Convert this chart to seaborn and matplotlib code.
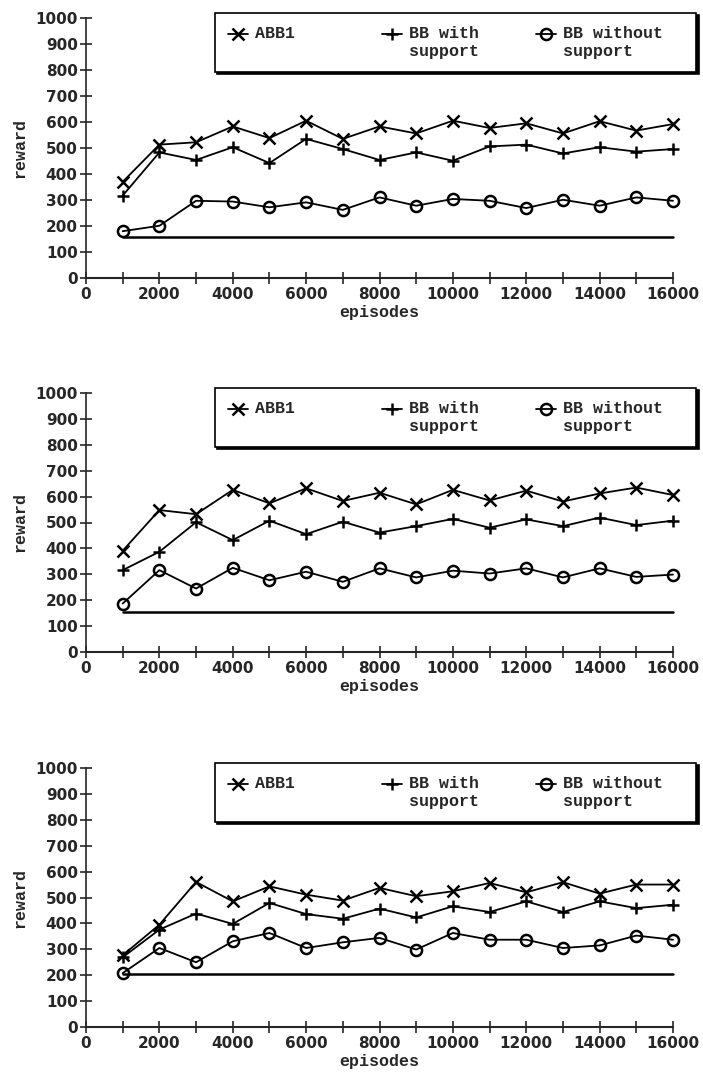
import matplotlib
matplotlib.use("Agg")
import matplotlib.pyplot as plt
import seaborn as sns
import numpy as np
import pandas as pd
from matplotlib.ticker import MultipleLocator

# episodes sampled every 1000
episodes = list(range(1000, 17000, 1000))

# panel 1
abb1_1 = [370, 513, 522, 583, 538, 605, 535, 583, 556, 605, 577, 595, 556, 603, 567, 592]
bbw_1 = [317, 483, 454, 503, 442, 535, 496, 454, 483, 451, 506, 513, 479, 503, 486, 496]
bbwo_1 = [180, 201, 297, 294, 272, 291, 262, 310, 278, 304, 297, 269, 301, 278, 310, 297]
base_1 = 157

# panel 2
abb1_2 = [391, 548, 532, 626, 574, 632, 583, 615, 570, 626, 585, 623, 581, 612, 635, 606]
bbw_2 = [316, 387, 501, 432, 507, 455, 503, 461, 486, 514, 480, 512, 486, 519, 490, 507]
bbwo_2 = [187, 316, 245, 325, 277, 310, 271, 323, 288, 314, 303, 323, 288, 323, 290, 299]
base_2 = 155

# panel 3
abb1_3 = [277, 395, 560, 485, 543, 511, 488, 537, 505, 524, 556, 520, 559, 515, 550, 550]
bbw_3 = [269, 376, 438, 398, 479, 436, 418, 457, 423, 466, 444, 485, 444, 485, 459, 472]
bbwo_3 = [208, 305, 250, 331, 363, 305, 327, 344, 299, 363, 337, 337, 305, 315, 353, 337]
base_3 = 205

panels = [
    (abb1_1, bbw_1, bbwo_1, base_1),
    (abb1_2, bbw_2, bbwo_2, base_2),
    (abb1_3, bbw_3, bbwo_3, base_3),
]

labels = ["ABB1", "BB with\nsupport", "BB without\nsupport"]
markers = ["x", "+", "o"]

sns.set_style("ticks")
plt.rcParams["font.family"] = ["DejaVu Sans"]
tick_font = {"family": "DejaVu Sans", "weight": "bold", "size": 11}
lab_font = {"family": "Liberation Mono", "weight": "bold", "size": 12}


def pad_label(lab, n=12):
    # pad every line (and the line count) so legend columns come out even
    lines = lab.split("\n")
    if len(lines) < 2:
        lines.append("")
    return "\n".join(line.ljust(n) for line in lines)


fig = plt.figure(figsize=(7.03, 10.74), dpi=100)

left = 86 / 703
width = 587 / 703
# (pixel of y=0, pixel of y=1000)
rows = [(278, 18), (652, 393), (1027, 768)]

for (abb1, bbw, bbwo, base), (y0, y1) in zip(panels, rows):
    ax = fig.add_axes([left, 1 - y0 / 1074, width, (y0 - y1) / 1074])
    df = pd.DataFrame({"episodes": episodes, "ABB1": abb1,
                       "BB with\nsupport": bbw, "BB without\nsupport": bbwo,
                       "baseline": [base] * len(episodes)})

    for lab, mk in zip(labels, markers):
        sns.lineplot(data=df, x="episodes", y=lab, ax=ax, color="black",
                     linewidth=1.3, marker=mk, markersize=9 if mk != "o" else 8,
                     markeredgewidth=1.8, markerfacecolor="none" if mk == "o" else "black",
                     markeredgecolor="black", label=pad_label(lab), clip_on=False)
    sns.lineplot(data=df, x="episodes", y="baseline", ax=ax, color="black",
                 linewidth=1.8, label="_nolegend_", clip_on=False)

    ax.set_xlim(0, 16000)
    ax.set_ylim(0, 1000)
    ax.xaxis.set_major_locator(MultipleLocator(2000))
    ax.xaxis.set_minor_locator(MultipleLocator(1000))
    ax.yaxis.set_major_locator(MultipleLocator(100))
    ax.tick_params(axis="x", which="both", direction="inout", length=9, width=1.2, pad=2)
    ax.tick_params(axis="y", direction="inout", length=8, width=1.2, pad=2)
    for t in ax.get_xticklabels() + ax.get_yticklabels():
        t.set_fontproperties(tick_font)
    sns.despine(ax=ax)
    ax.spines["left"].set_linewidth(1.2)
    ax.spines["bottom"].set_linewidth(1.5)

    ax.set_xlabel("episodes", fontdict=lab_font, labelpad=2)
    ax.set_ylabel("reward", fontdict=lab_font, labelpad=6)

    # legend box across the top right
    leg = ax.legend(loc="upper left", bbox_to_anchor=(0.219, 0.80, 0.821, 0.22),
                    mode="expand", ncol=3, frameon=True, fancybox=False,
                    borderaxespad=0, edgecolor="black", handlelength=1.2,
                    handletextpad=0.4, borderpad=0.8, columnspacing=0.5,
                    prop={"family": "Liberation Mono", "weight": "bold", "size": 12},
                    shadow={"color": "black", "alpha": 1.0, "ox": 1.5, "oy": -1.5})
    leg.get_frame().set_linewidth(1.2)
    # align legend markers with the first text line
    for h in leg.legend_handles:
        h.set_ydata(np.asarray(h.get_ydata()) + 6)

fig.savefig("out.png", dpi=100)
